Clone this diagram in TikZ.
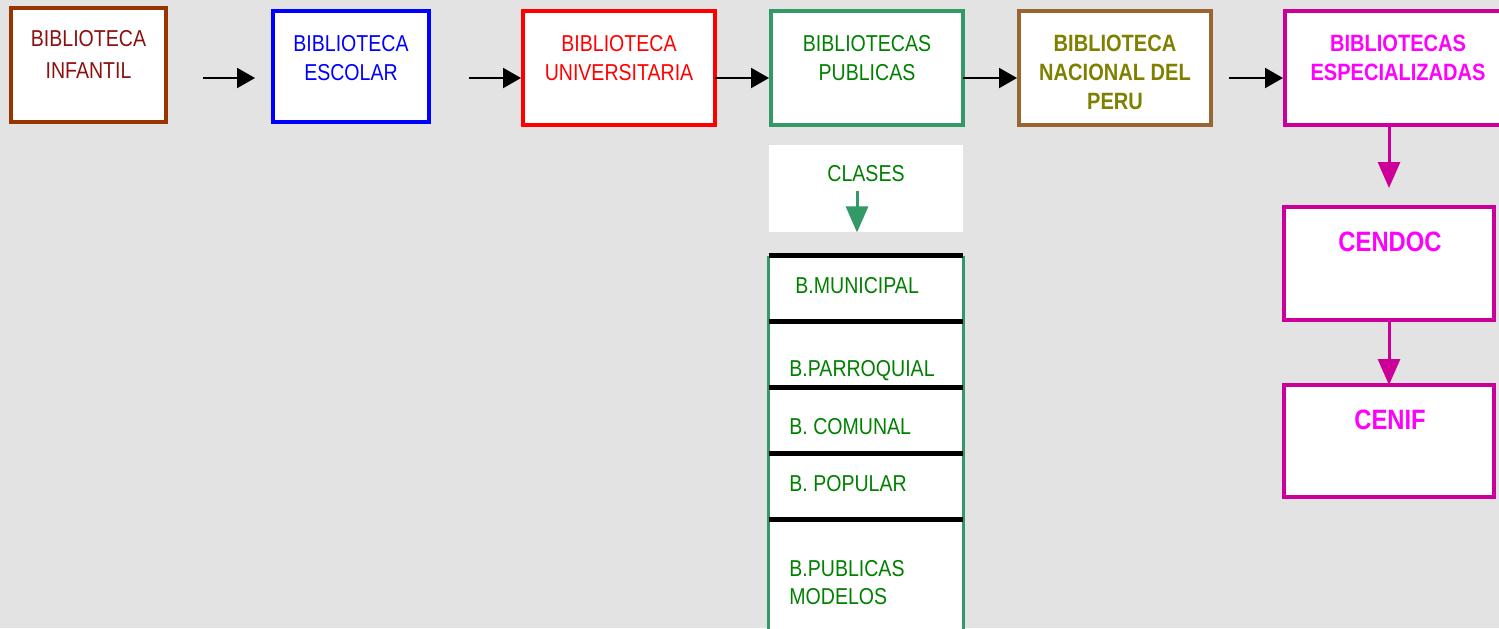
\documentclass[tikz,border=0pt]{standalone}
\usepackage{fontspec}
\setmainfont{Liberation Sans}[FakeStretch=0.85]
\usetikzlibrary{arrows.meta,positioning}
\definecolor{paper}{HTML}{E3E3E3}
\definecolor{infbrd}{HTML}{993300}
\definecolor{inftxt}{HTML}{8B1010}
\definecolor{pubbrd}{HTML}{339966}
\definecolor{pubtxt}{HTML}{008000}
\definecolor{nacbrd}{HTML}{996633}
\definecolor{nactxt}{HTML}{808000}
\definecolor{espbrd}{HTML}{CC0099}
\definecolor{esptxt}{HTML}{FF00FF}
\tikzset{
  box/.style={draw=#1, line width=2pt, fill=white, inner sep=0pt, outer sep=0pt},
  txt/.style={text=#1, align=center, inner sep=0pt, font=\fontsize{11.5}{14.5}\selectfont},
  btxt/.style={txt=#1, font=\fontsize{11.8}{14.5}\selectfont\bfseries},
  rowtxt/.style={text=pubtxt, anchor=west, align=left, inner sep=0pt, font=\fontsize{11.5}{14}\selectfont},
  arr/.style={line width=1pt, -{Triangle[length=9pt,width=10pt]}},
  darr/.style={draw=#1, line width=1.5pt, -{Triangle[length=13pt,width=11pt]}},
}
\begin{document}
\begin{tikzpicture}[x=0.5pt,y=-0.5pt]
\useasboundingbox (0,0) rectangle (1499,628);
\clip (0,0) rectangle (1499,628);
\fill[paper] (0,0) rectangle (1499,628);
% top row
\node[box=infbrd, minimum width=77.5pt, minimum height=57pt] (infantil) at (88.5,65) {};
\node[txt=inftxt, font=\fontsize{11.5}{16}\selectfont] (tinfantil) at (88.5,54) {BIBLIOTECA\\INFANTIL};
\node[box=blue, minimum width=78pt, minimum height=55.5pt] (escolar) at (351,66.5) {};
\node[txt=blue] (tescolar) at (351,58) {BIBLIOTECA\\ESCOLAR};
\node[box=red, minimum width=96pt, minimum height=57pt] (univ) at (619,68) {};
\node[txt=red] (tuniv) at (619,58) {BIBLIOTECA\\UNIVERSITARIA};
\node[box=pubbrd, minimum width=96pt, minimum height=57pt] (publicas) at (867,68) {};
\node[txt=pubtxt] (tpublicas) at (867,58) {BIBLIOTECAS\\PUBLICAS};
\node[box=nacbrd, minimum width=96pt, minimum height=57pt] (nacional) at (1115,68) {};
\node[btxt=nactxt] (tnacional) at (1115,72) {BIBLIOTECA\\NACIONAL DEL\\PERU};
\node[box=espbrd, minimum width=112.5pt, minimum height=57pt] (especial) at (1397.5,68) {};
\node[btxt=esptxt] (tespecial) at (1398,58) {BIBLIOTECAS\\ESPECIALIZADAS};
% arrows between the boxes
\draw[arr, shorten <=18.5pt, shorten >=9pt] ([yshift=-6.5pt]infantil.east) -- ([yshift=-6.5pt]escolar.west |- infantil.east);
\draw[arr, shorten <=20pt, shorten >=1pt] ([yshift=-5.75pt]escolar.east) -- ([yshift=-5pt]univ.west);
\draw[arr, shorten >=1pt] ([yshift=-5pt]univ.east) -- ([yshift=-5pt]publicas.west);
\draw[arr, shorten >=1pt] ([yshift=-5pt]publicas.east) -- ([yshift=-5pt]nacional.west);
\draw[arr, shorten <=9pt, shorten >=1pt] ([yshift=-5pt]nacional.east) -- ([yshift=-5pt]especial.west);
% clases
\node[fill=white, inner sep=0pt, minimum width=97pt, minimum height=43.5pt] (clases) at (866,188.5) {};
\node[txt=pubtxt] (tclases) at (866,174) {CLASES};
\draw[darr=pubbrd] ([xshift=-4.5pt,yshift=-4pt]tclases.south) -- ([xshift=-4.5pt]clases.south);
% list of the public libraries
\node[fill=white, inner sep=0pt, minimum width=97pt, minimum height=33pt] (municipal) at (866,289) {};
\node[fill=white, inner sep=0pt, minimum width=97pt, minimum height=33pt] (parroquial) at (866,355) {};
\node[fill=white, inner sep=0pt, minimum width=97pt, minimum height=33pt] (comunal) at (866,421) {};
\node[fill=white, inner sep=0pt, minimum width=97pt, minimum height=33pt] (popular) at (866,487) {};
\node[fill=white, inner sep=0pt, minimum width=97pt, minimum height=60pt] (modelos) at (866,580) {};
\draw[pubbrd, line width=1.5pt] (municipal.north west) -- (modelos.south west);
\draw[pubbrd, line width=1.5pt] (municipal.north east) -- (modelos.south east);
\foreach \r in {municipal,parroquial,comunal,popular,modelos}
  \draw[line width=2.5pt] (\r.north west) -- (\r.north east);
\node[rowtxt] (tmunicipal) at (795,286) {B.MUNICIPAL};
\node[rowtxt] (tparroquial) at (789,371) {B.PARROQUIAL};
\node[rowtxt] (tcomunal) at (789,427) {B. COMUNAL};
\node[rowtxt] (tpopular) at (789,484) {B. POPULAR};
\node[rowtxt] (tmodelos) at (789,583) {B.PUBLICAS\\MODELOS};
% centres
\node[box=espbrd, minimum width=105pt, minimum height=56.5pt] (cendoc) at (1389,263.5) {};
\node[btxt=esptxt, font=\fontsize{14}{16}\selectfont\bfseries] (tcendoc) at (1390,242) {CENDOC};
\node[box=espbrd, minimum width=105pt, minimum height=56pt] (cenif) at (1389,441) {};
\node[btxt=esptxt, font=\fontsize{14}{16}\selectfont\bfseries] (tcenif) at (1390,420) {CENIF};
\draw[darr=espbrd, shorten >=9.5pt] (especial.south -| cendoc.north) -- (cendoc.north);
\draw[darr=espbrd] (cendoc.south) -- (cenif.north);
\end{tikzpicture}
\end{document}
